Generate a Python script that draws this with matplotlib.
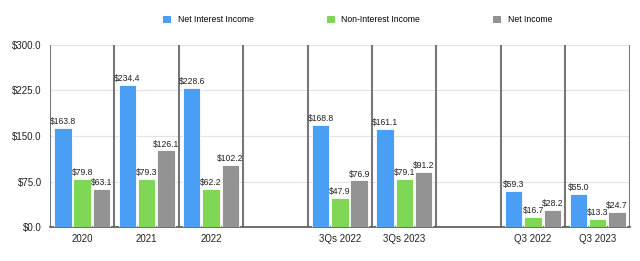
import numpy as np
import matplotlib.pyplot as plt
from matplotlib.patches import Patch

plt.rcParams['font.family'] = ['Liberation Sans', 'DejaVu Sans']

categories = ["2020", "2021", "2022", "", "3Qs 2022", "3Qs 2023", "", "Q3 2022", "Q3 2023"]
net_interest = [163.8, 234.4, 228.6, None, 168.8, 161.1, None, 59.3, 55.0]
non_interest = [79.8, 79.3, 62.2, None, 47.9, 79.1, None, 16.7, 13.3]
net_income = [63.1, 126.1, 102.2, None, 76.9, 91.2, None, 28.2, 24.7]

series = [
    ("Net Interest Income", net_interest, "#4A9FF5"),
    ("Non-Interest Income", non_interest, "#80D655"),
    ("Net Income", net_income, "#939393"),
]

fig = plt.figure(figsize=(6.4, 2.61), dpi=100)
ax = fig.add_axes([0.078, 0.13, 0.906, 0.698])

x = np.arange(len(categories))
width = 0.27
offsets = [-0.3, 0.0, 0.3]

for (name, vals, color), off in zip(series, offsets):
    for i, v in enumerate(vals):
        if v is None:
            continue
        ax.bar(i + off, v, width, color=color, edgecolor="white", linewidth=0.6, zorder=3)
        ax.text(i + off, v + 3, f"${v:.1f}", ha="center", va="bottom",
                fontsize=6.2, color="#222222", zorder=4)

for b in np.arange(-0.5, len(categories), 1.0):
    ax.plot([b, b], [0, 300], color="#777777", linewidth=1.5, zorder=2)

ax.set_xlim(-0.5, len(categories) - 0.5)
ax.set_ylim(0, 300)
ax.set_yticks([0, 75, 150, 225, 300])
ax.set_yticklabels([f"${t:.1f}" for t in [0, 75, 150, 225, 300]])
ax.set_xticks(x)
ax.set_xticklabels(categories)
ax.tick_params(axis="both", length=0, labelsize=7, colors="#222222")
ax.tick_params(axis="x", pad=5)
ax.tick_params(axis="y", pad=6)
ax.yaxis.grid(True, color="#e3e3e3", linewidth=0.8, zorder=0)
ax.set_axisbelow(True)
for s in ["top", "right", "left"]:
    ax.spines[s].set_visible(False)
ax.spines["bottom"].set_color("#555555")
ax.spines["bottom"].set_linewidth(1.2)

handles = [Patch(facecolor=c, label=n) for n, _, c in series]
fig.legend(handles=handles, loc="center", bbox_to_anchor=(0.559, 0.925), ncol=3,
           frameon=False, fontsize=6.2, handlelength=0.9, handleheight=0.9,
           handletextpad=0.8, columnspacing=8.5)

fig.savefig("out.png", dpi=100)
